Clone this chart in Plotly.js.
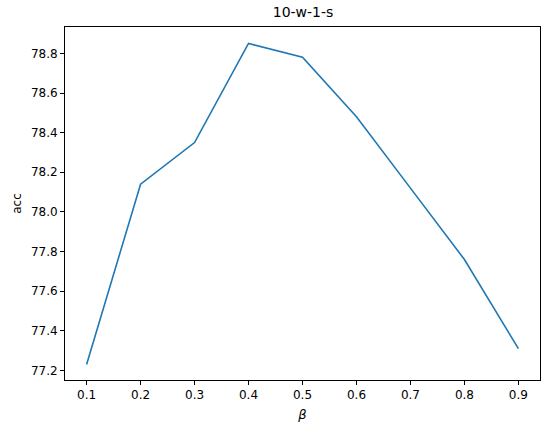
<!DOCTYPE html>
<html>
<head>
<meta charset="utf-8">
<script src="https://cdn.plot.ly/plotly-3.0.1.min.js"></script>
<style>html,body{margin:0;padding:0;background:#fff;}#chart{width:550px;height:429px;}</style>
</head>
<body>
<div id="chart"></div>
<script>
const beta = [0.1, 0.2, 0.3, 0.4, 0.5, 0.6, 0.7, 0.8, 0.9];
const acc = [77.23, 78.14, 78.35, 78.85, 78.78, 78.48, 78.12, 77.76, 77.31];
const xTicks = [0.1, 0.2, 0.3, 0.4, 0.5, 0.6, 0.7, 0.8, 0.9];
const yTicks = [77.2, 77.4, 77.6, 77.8, 78.0, 78.2, 78.4, 78.6, 78.8];

const font = {family: 'DejaVu Sans, sans-serif', color: '#000'};
const axisCommon = {
  showline: true, mirror: true, linecolor: '#000', linewidth: 1,
  ticks: 'outside', ticklen: 4, tickwidth: 1, tickcolor: '#000',
  showgrid: false, zeroline: false,
  tickfont: Object.assign({size: 12}, font)
};

Plotly.newPlot('chart', [{
  x: beta, y: acc, type: 'scatter', mode: 'lines',
  line: {color: '#1f77b4', width: 1.6}
}], {
  width: 550, height: 429,
  margin: {l: 65, r: 10, t: 27, b: 49},
  paper_bgcolor: '#fff', plot_bgcolor: '#fff',
  showlegend: false,
  title: {text: '10-w-1-s', x: 0.551, xanchor: 'center', y: 0.972, yanchor: 'middle', font: Object.assign({size: 14}, font)},
  xaxis: Object.assign({}, axisCommon, {
    range: [0.06, 0.94], tickvals: xTicks, ticktext: xTicks.map(v => v.toFixed(1)),
    title: {text: '<i>β</i>', standoff: 8, font: Object.assign({size: 13}, font)}
  }),
  yaxis: Object.assign({}, axisCommon, {
    range: [77.152, 78.933], tickvals: yTicks, ticktext: yTicks.map(v => v.toFixed(1)),
    title: {text: 'acc', standoff: 6, font: Object.assign({size: 12}, font)}
  })
}, {staticPlot: true});
</script>
</body>
</html>
